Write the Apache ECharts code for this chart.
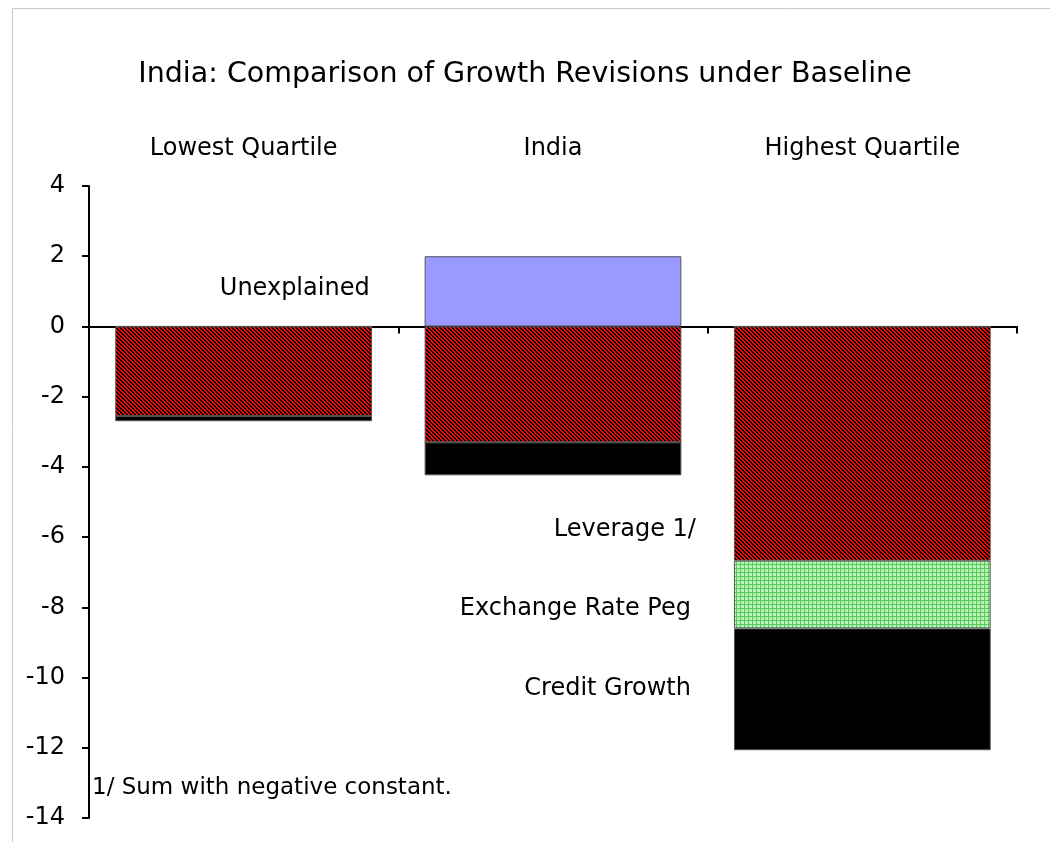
<!DOCTYPE html>
<html>
<head>
<meta charset="utf-8">
<script src="https://cdn.jsdelivr.net/npm/echarts@6/dist/echarts.min.js"></script>
<style>
  html, body { margin: 0; padding: 0; background: #fff; }
  #chart { width: 1050px; height: 842px; }
</style>
</head>
<body>
<div id="chart"></div>
<script>
// Growth revision components by group
const categories = ['Lowest Quartile', 'India', 'Highest Quartile'];
const unexplained = [0, 2.0, 0];
const leverage = [-2.55, -3.3, -6.67];
const exchangeRatePeg = [0, 0, -1.93];
const creditGrowth = [-0.15, -0.94, -3.47];
const yTicks = { min: -14, max: 4, interval: 2 };

const FONT = '"DejaVu Sans", Verdana, sans-serif';
const FS = 24;

// Small repeating tiles used as fill patterns
function makeTile(size, painter) {
  const c = document.createElement('canvas');
  c.width = size; c.height = size;
  const ctx = c.getContext('2d');
  const img = ctx.createImageData(size, size);
  for (let y = 0; y < size; y++) {
    for (let x = 0; x < size; x++) {
      const rgb = painter(x, y);
      const i = (y * size + x) * 4;
      img.data[i] = rgb[0]; img.data[i + 1] = rgb[1]; img.data[i + 2] = rgb[2]; img.data[i + 3] = 255;
    }
  }
  ctx.putImageData(img, 0, 0);
  return c;
}

// Red with black diagonal hatching
const redHatch = makeTile(4, (x, y) => (((x - y) % 4 + 4) % 4 < 2) ? [0, 0, 0] : [255, 0, 0]);
// Light green with fine darker dots
const greenDots = makeTile(4, (x, y) => (x % 4 === 0 || y % 4 === 0) ? [90, 200, 90] : [185, 245, 185]);

const chart = echarts.init(document.getElementById('chart'), null, { renderer: 'canvas' });

const barBorder = { borderColor: '#555', borderWidth: 1 };

function annot(text, distance, dy) {
  return {
    show: true, position: 'left', distance: distance, offset: [0, dy],
    formatter: text, color: '#000', fontSize: FS, fontFamily: FONT
  };
}

const option = {
  backgroundColor: '#fff',
  animation: false,
  title: {
    text: 'India: Comparison of Growth Revisions under Baseline',
    left: 'center', top: 55,
    textStyle: { fontSize: 28.5, fontWeight: 'normal', color: '#000', fontFamily: FONT }
  },
  grid: { left: 89, right: 33, top: 186, bottom: 24, containLabel: false },
  xAxis: [
    {
      type: 'category', data: categories, position: 'bottom',
      axisLine: { onZero: true, lineStyle: { color: '#000', width: 2 } },
      axisTick: { show: true, alignWithLabel: false, length: 7, lineStyle: { color: '#000', width: 2 } },
      axisLabel: { show: false },
      splitLine: { show: false }
    },
    {
      type: 'category', data: categories, position: 'top',
      axisLine: { show: false }, axisTick: { show: false },
      axisLabel: { show: true, margin: 25, color: '#000', fontSize: FS, fontFamily: FONT }
    }
  ],
  yAxis: {
    type: 'value', min: yTicks.min, max: yTicks.max, interval: yTicks.interval,
    axisLine: { show: true, lineStyle: { color: '#000', width: 2 } },
    axisTick: { show: true, length: 7, lineStyle: { color: '#000', width: 2 } },
    axisLabel: { color: '#000', fontSize: FS, fontFamily: FONT, margin: 24, padding: [4, 0, 0, 0] },
    splitLine: { show: false }
  },
  series: [
    {
      name: 'Unexplained', type: 'bar', stack: 'total', barCategoryGap: '17%',
      itemStyle: Object.assign({ color: '#9999ff' }, barBorder),
      data: unexplained.map((v, i) => i === 1 ? { value: v, label: annot('Unexplained', 55, -3) } : v)
    },
    {
      name: 'Leverage 1/', type: 'bar', stack: 'total',
      itemStyle: Object.assign({ color: { image: redHatch, repeat: 'repeat' } }, barBorder),
      data: leverage.map((v, i) => i === 2 ? { value: v, label: annot('Leverage 1/', 38, 86) } : v)
    },
    {
      name: 'Exchange Rate Peg', type: 'bar', stack: 'total',
      itemStyle: Object.assign({ color: { image: greenDots, repeat: 'repeat' } }, barBorder),
      data: exchangeRatePeg.map((v, i) => i === 2 ? { value: v, label: annot('Exchange Rate Peg', 43, 14) } : v)
    },
    {
      name: 'Credit Growth', type: 'bar', stack: 'total',
      itemStyle: Object.assign({ color: '#000' }, barBorder),
      data: creditGrowth.map((v, i) => i === 2 ? { value: v, label: annot('Credit Growth', 43, -1) } : v)
    }
  ],
  graphic: [
    {
      type: 'rect', silent: true, z: -1,
      shape: { x: 12.5, y: 8.5, width: 1100, height: 900 },
      style: { fill: 'none', stroke: '#c8c8c8', lineWidth: 1 }
    },
    {
      type: 'text', left: 92, top: 777,
      style: { text: '1/ Sum with negative constant.', fill: '#000', fontSize: 23, fontFamily: FONT }
    }
  ]
};

chart.setOption(option);
</script>
</body>
</html>
